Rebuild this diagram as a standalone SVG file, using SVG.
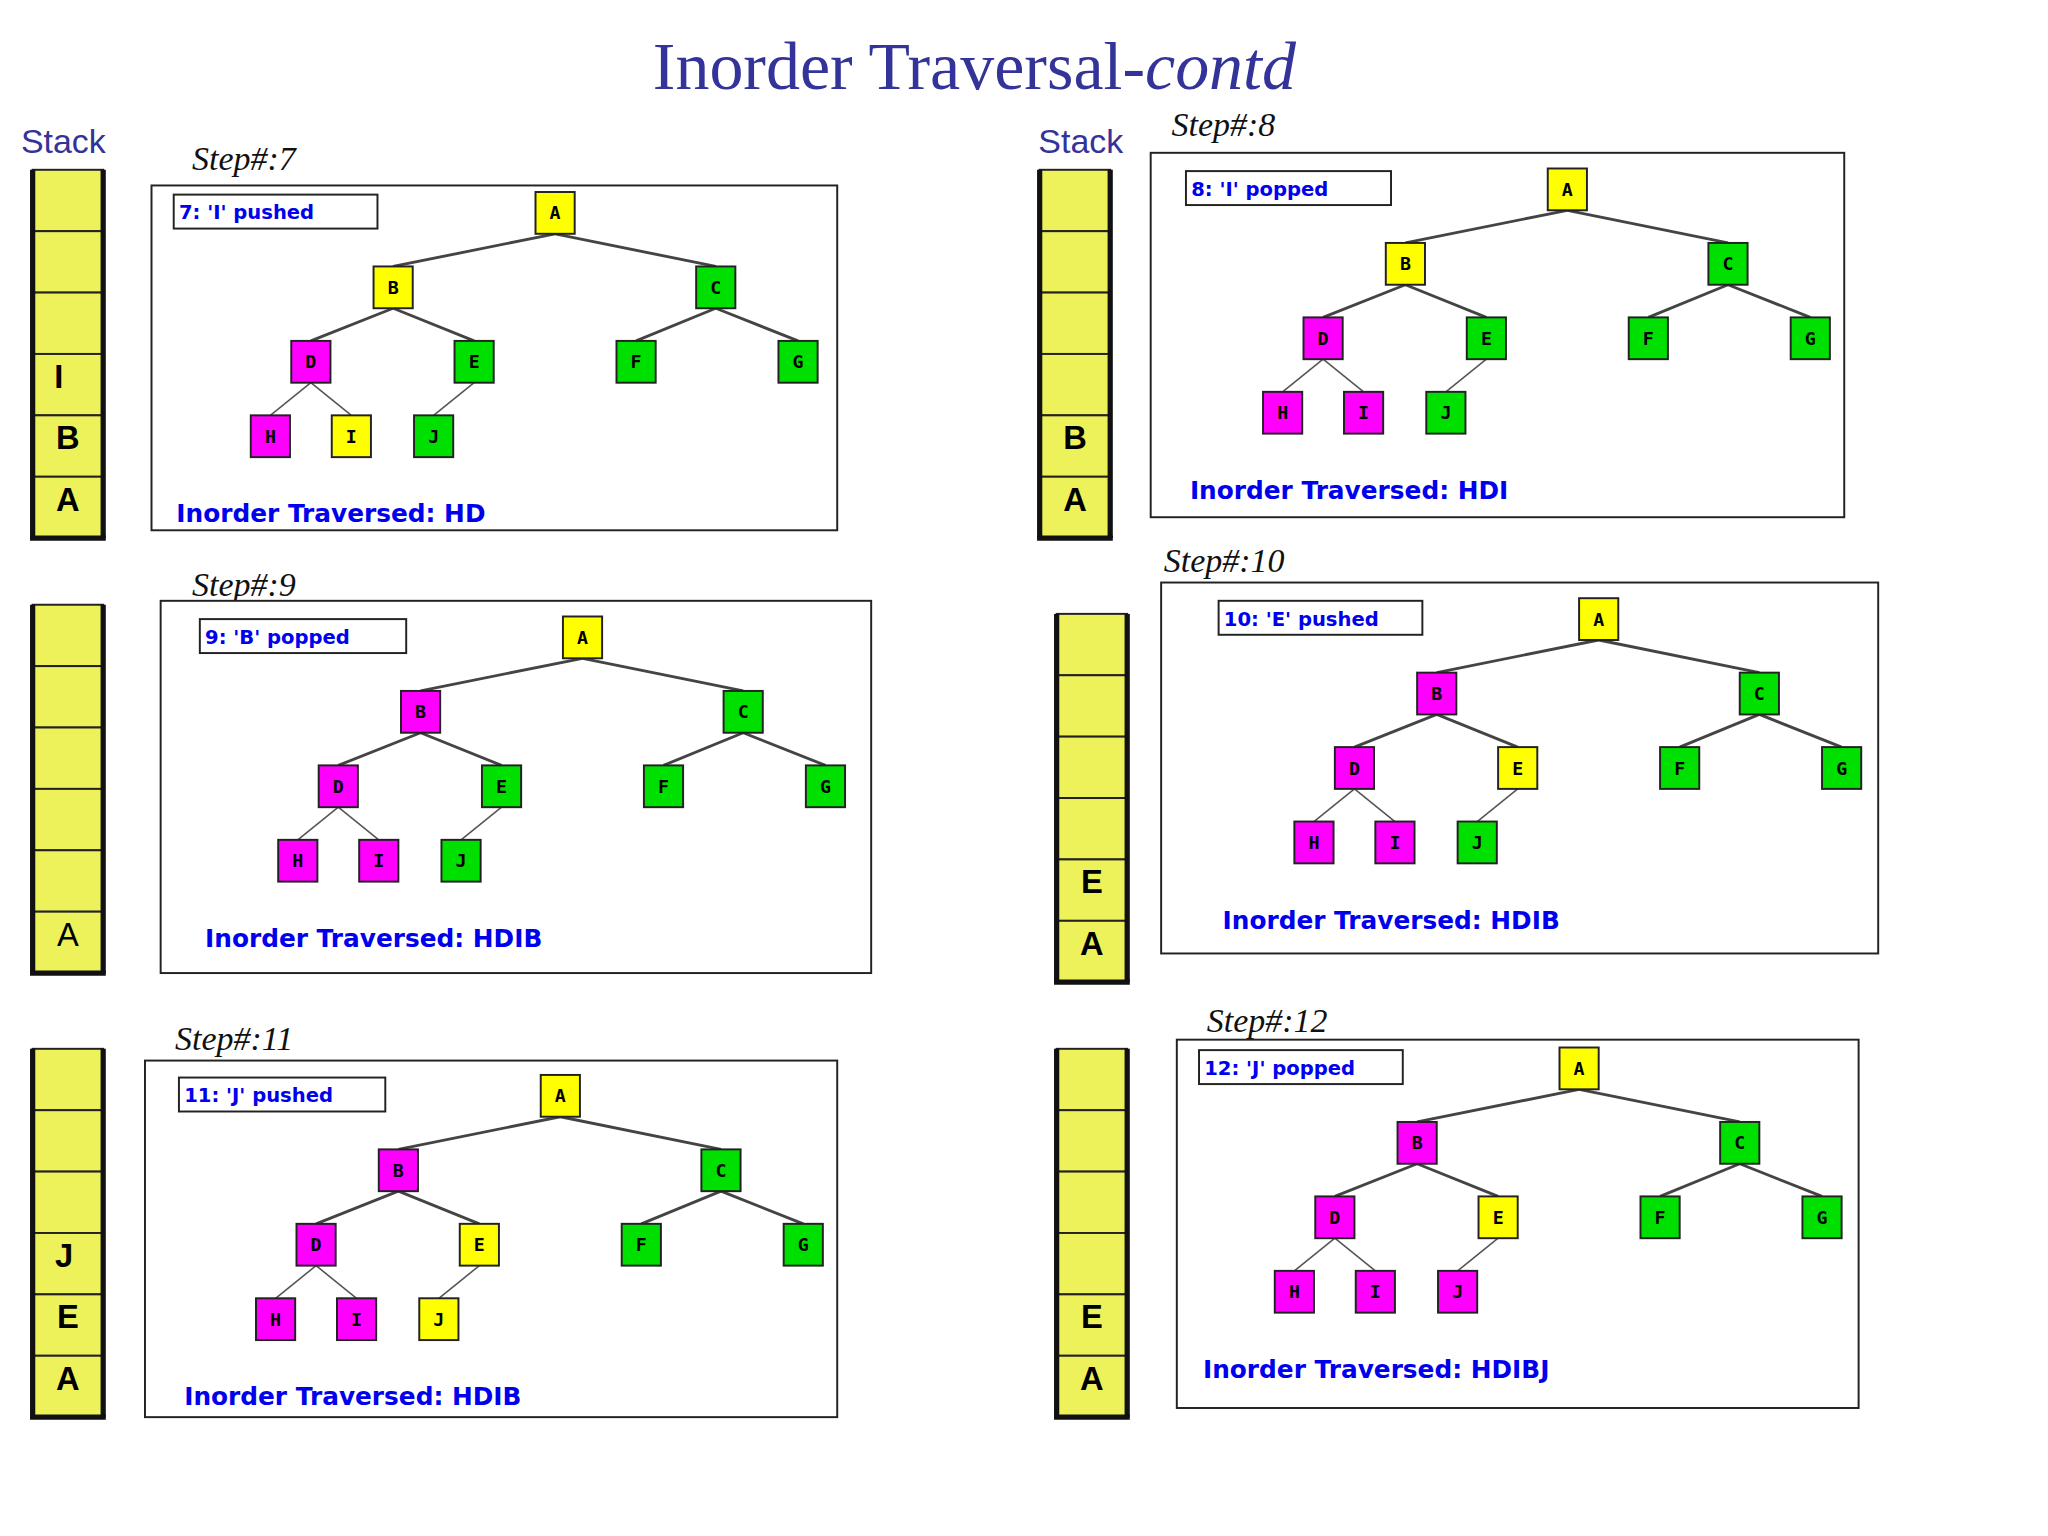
<svg xmlns="http://www.w3.org/2000/svg" width="2048" height="1536" viewBox="0 0 2048 1536">
<style>
.t{font-family:"Liberation Serif",serif;fill:#333399}
.st{font-family:"Liberation Sans",sans-serif;font-size:26px;fill:#333399}
.step{font-family:"Liberation Serif",serif;font-style:italic;font-size:26px;fill:#111}
.frame{fill:#fff;stroke:#222;stroke-width:1.5}
.lbl{fill:#fff;stroke:#222;stroke-width:1.5}
.lt{font-family:"DejaVu Sans",sans-serif;font-weight:bold;font-size:15px;fill:#0000ee}
.tr{font-family:"DejaVu Sans",sans-serif;font-weight:bold;font-size:19px;fill:#0000ee}
.y{fill:#ffff00;stroke:#222;stroke-width:1.5}
.g{fill:#00e000;stroke:#222;stroke-width:1.5}
.m{fill:#ff00ff;stroke:#222;stroke-width:1.5}
.nt{font-family:"DejaVu Sans Mono",monospace;font-weight:bold;font-size:14px;fill:#000;text-anchor:middle}
.e1{stroke:#444;stroke-width:2.2}
.e2{stroke:#555;stroke-width:1.2}
.cell{fill:#eef25a;stroke:#222;stroke-width:1.5}
.side{stroke:#111;stroke-width:4}
.sl{font-family:"Liberation Sans",sans-serif;font-weight:bold;font-size:25px;fill:#000;text-anchor:middle}
.sl.n{font-weight:normal}
</style>
<defs>
<g id="edges">
<line class="e1" x1="0" y1="16" x2="-124" y2="41"/><line class="e1" x1="0" y1="16" x2="123" y2="41"/>
<line class="e1" x1="-124" y1="73" x2="-187" y2="98"/><line class="e1" x1="-124" y1="73" x2="-62" y2="98"/>
<line class="e1" x1="123" y1="73" x2="62" y2="98"/><line class="e1" x1="123" y1="73" x2="186" y2="98"/>
<line class="e2" x1="-187" y1="130" x2="-218" y2="155"/><line class="e2" x1="-187" y1="130" x2="-156" y2="155"/>
<line class="e2" x1="-62" y1="130" x2="-93" y2="155"/>
</g>
<g id="stack">
<rect class="cell" x="0" y="0" width="54" height="47"/><rect class="cell" x="0" y="47" width="54" height="47"/>
<rect class="cell" x="0" y="94" width="54" height="47"/><rect class="cell" x="0" y="141" width="54" height="47"/>
<rect class="cell" x="0" y="188" width="54" height="47"/><rect class="cell" x="0" y="235" width="54" height="47"/>
<line class="side" x1="0" y1="0" x2="0" y2="282"/><line class="side" x1="54" y1="0" x2="54" y2="282"/>
<line class="side" x1="-2" y1="282" x2="56" y2="282"/>
</g>
</defs>
<rect width="2048" height="1536" fill="#fff"/>
<g transform="scale(1.30612)">
<text class="t" x="746" y="68" font-size="52" text-anchor="middle">Inorder Traversal-<tspan font-style="italic">contd</tspan></text>
<text class="st" x="16" y="117">Stack</text>
<text class="st" x="795" y="117">Stack</text>

<!-- Step 7 -->
<g id="stack7" transform="translate(25,130)"><use href="#stack"/>
<text class="sl" x="20" y="167">I</text><text class="sl" x="27" y="214">B</text><text class="sl" x="27" y="261">A</text></g>
<text class="step" x="147" y="130">Step#:7</text>
<rect class="frame" x="116" y="142" width="525" height="264"/>
<rect class="lbl" x="133" y="149" width="156" height="26"/>
<text class="lt" x="137" y="168">7: 'I' pushed</text>
<text class="tr" x="135" y="400">Inorder Traversed: HD</text>
<g transform="translate(425,163)">
<g class="connectors"><use href="#edges"/></g>
<g id="s7A"><rect class="y" x="-15" y="-16" width="30" height="32"/><text class="nt" x="0" y="5">A</text></g>
<g id="s7B"><rect class="y" x="-139" y="41" width="30" height="32"/><text class="nt" x="-124" y="62">B</text></g>
<g id="s7C"><rect class="g" x="108" y="41" width="30" height="32"/><text class="nt" x="123" y="62">C</text></g>
<g id="s7D"><rect class="m" x="-202" y="98" width="30" height="32"/><text class="nt" x="-187" y="119">D</text></g>
<g id="s7E"><rect class="g" x="-77" y="98" width="30" height="32"/><text class="nt" x="-62" y="119">E</text></g>
<g id="s7F"><rect class="g" x="47" y="98" width="30" height="32"/><text class="nt" x="62" y="119">F</text></g>
<g id="s7G"><rect class="g" x="171" y="98" width="30" height="32"/><text class="nt" x="186" y="119">G</text></g>
<g id="s7H"><rect class="m" x="-233" y="155" width="30" height="32"/><text class="nt" x="-218" y="176">H</text></g>
<g id="s7I"><rect class="y" x="-171" y="155" width="30" height="32"/><text class="nt" x="-156" y="176">I</text></g>
<g id="s7J"><rect class="g" x="-108" y="155" width="30" height="32"/><text class="nt" x="-93" y="176">J</text></g>
</g>

<!-- Step 8 -->
<g id="stack8" transform="translate(796,130)"><use href="#stack"/>
<text class="sl" x="27" y="214">B</text><text class="sl" x="27" y="261">A</text></g>
<text class="step" x="897" y="104">Step#:8</text>
<rect class="frame" x="881" y="117" width="531" height="279"/>
<rect class="lbl" x="908" y="131" width="157" height="26"/>
<text class="lt" x="912" y="150">8: 'I' popped</text>
<text class="tr" x="911" y="382">Inorder Traversed: HDI</text>
<g transform="translate(1200,145)">
<g class="connectors"><use href="#edges"/></g>
<g id="s8A"><rect class="y" x="-15" y="-16" width="30" height="32"/><text class="nt" x="0" y="5">A</text></g>
<g id="s8B"><rect class="y" x="-139" y="41" width="30" height="32"/><text class="nt" x="-124" y="62">B</text></g>
<g id="s8C"><rect class="g" x="108" y="41" width="30" height="32"/><text class="nt" x="123" y="62">C</text></g>
<g id="s8D"><rect class="m" x="-202" y="98" width="30" height="32"/><text class="nt" x="-187" y="119">D</text></g>
<g id="s8E"><rect class="g" x="-77" y="98" width="30" height="32"/><text class="nt" x="-62" y="119">E</text></g>
<g id="s8F"><rect class="g" x="47" y="98" width="30" height="32"/><text class="nt" x="62" y="119">F</text></g>
<g id="s8G"><rect class="g" x="171" y="98" width="30" height="32"/><text class="nt" x="186" y="119">G</text></g>
<g id="s8H"><rect class="m" x="-233" y="155" width="30" height="32"/><text class="nt" x="-218" y="176">H</text></g>
<g id="s8I"><rect class="m" x="-171" y="155" width="30" height="32"/><text class="nt" x="-156" y="176">I</text></g>
<g id="s8J"><rect class="g" x="-108" y="155" width="30" height="32"/><text class="nt" x="-93" y="176">J</text></g>
</g>

<!-- Step 9 -->
<g id="stack9" transform="translate(25,463)"><use href="#stack"/>
<text class="sl n" x="27" y="261">A</text></g>
<text class="step" x="147" y="456">Step#:9</text>
<rect class="frame" x="123" y="460" width="544" height="285"/>
<rect class="lbl" x="153" y="474" width="158" height="26"/>
<text class="lt" x="157" y="493">9: 'B' popped</text>
<text class="tr" x="157" y="725">Inorder Traversed: HDIB</text>
<g transform="translate(446,488)">
<g class="connectors"><use href="#edges"/></g>
<g id="s9A"><rect class="y" x="-15" y="-16" width="30" height="32"/><text class="nt" x="0" y="5">A</text></g>
<g id="s9B"><rect class="m" x="-139" y="41" width="30" height="32"/><text class="nt" x="-124" y="62">B</text></g>
<g id="s9C"><rect class="g" x="108" y="41" width="30" height="32"/><text class="nt" x="123" y="62">C</text></g>
<g id="s9D"><rect class="m" x="-202" y="98" width="30" height="32"/><text class="nt" x="-187" y="119">D</text></g>
<g id="s9E"><rect class="g" x="-77" y="98" width="30" height="32"/><text class="nt" x="-62" y="119">E</text></g>
<g id="s9F"><rect class="g" x="47" y="98" width="30" height="32"/><text class="nt" x="62" y="119">F</text></g>
<g id="s9G"><rect class="g" x="171" y="98" width="30" height="32"/><text class="nt" x="186" y="119">G</text></g>
<g id="s9H"><rect class="m" x="-233" y="155" width="30" height="32"/><text class="nt" x="-218" y="176">H</text></g>
<g id="s9I"><rect class="m" x="-171" y="155" width="30" height="32"/><text class="nt" x="-156" y="176">I</text></g>
<g id="s9J"><rect class="g" x="-108" y="155" width="30" height="32"/><text class="nt" x="-93" y="176">J</text></g>
</g>

<!-- Step 10 -->
<g id="stack10" transform="translate(809,470)"><use href="#stack"/>
<text class="sl" x="27" y="214">E</text><text class="sl" x="27" y="261">A</text></g>
<text class="step" x="891" y="438">Step#:10</text>
<rect class="frame" x="889" y="446" width="549" height="284"/>
<rect class="lbl" x="933" y="460" width="156" height="26"/>
<text class="lt" x="937" y="479">10: 'E' pushed</text>
<text class="tr" x="936" y="711">Inorder Traversed: HDIB</text>
<g transform="translate(1224,474)">
<g class="connectors"><use href="#edges"/></g>
<g id="s10A"><rect class="y" x="-15" y="-16" width="30" height="32"/><text class="nt" x="0" y="5">A</text></g>
<g id="s10B"><rect class="m" x="-139" y="41" width="30" height="32"/><text class="nt" x="-124" y="62">B</text></g>
<g id="s10C"><rect class="g" x="108" y="41" width="30" height="32"/><text class="nt" x="123" y="62">C</text></g>
<g id="s10D"><rect class="m" x="-202" y="98" width="30" height="32"/><text class="nt" x="-187" y="119">D</text></g>
<g id="s10E"><rect class="y" x="-77" y="98" width="30" height="32"/><text class="nt" x="-62" y="119">E</text></g>
<g id="s10F"><rect class="g" x="47" y="98" width="30" height="32"/><text class="nt" x="62" y="119">F</text></g>
<g id="s10G"><rect class="g" x="171" y="98" width="30" height="32"/><text class="nt" x="186" y="119">G</text></g>
<g id="s10H"><rect class="m" x="-233" y="155" width="30" height="32"/><text class="nt" x="-218" y="176">H</text></g>
<g id="s10I"><rect class="m" x="-171" y="155" width="30" height="32"/><text class="nt" x="-156" y="176">I</text></g>
<g id="s10J"><rect class="g" x="-108" y="155" width="30" height="32"/><text class="nt" x="-93" y="176">J</text></g>
</g>

<!-- Step 11 -->
<g id="stack11" transform="translate(25,803)"><use href="#stack"/>
<text class="sl" x="24" y="167">J</text><text class="sl" x="27" y="214">E</text><text class="sl" x="27" y="261">A</text></g>
<text class="step" x="134" y="804">Step#:11</text>
<rect class="frame" x="111" y="812" width="530" height="273"/>
<rect class="lbl" x="137" y="825" width="158" height="26"/>
<text class="lt" x="141" y="844">11: 'J' pushed</text>
<text class="tr" x="141" y="1076">Inorder Traversed: HDIB</text>
<g transform="translate(429,839)">
<g class="connectors"><use href="#edges"/></g>
<g id="s11A"><rect class="y" x="-15" y="-16" width="30" height="32"/><text class="nt" x="0" y="5">A</text></g>
<g id="s11B"><rect class="m" x="-139" y="41" width="30" height="32"/><text class="nt" x="-124" y="62">B</text></g>
<g id="s11C"><rect class="g" x="108" y="41" width="30" height="32"/><text class="nt" x="123" y="62">C</text></g>
<g id="s11D"><rect class="m" x="-202" y="98" width="30" height="32"/><text class="nt" x="-187" y="119">D</text></g>
<g id="s11E"><rect class="y" x="-77" y="98" width="30" height="32"/><text class="nt" x="-62" y="119">E</text></g>
<g id="s11F"><rect class="g" x="47" y="98" width="30" height="32"/><text class="nt" x="62" y="119">F</text></g>
<g id="s11G"><rect class="g" x="171" y="98" width="30" height="32"/><text class="nt" x="186" y="119">G</text></g>
<g id="s11H"><rect class="m" x="-233" y="155" width="30" height="32"/><text class="nt" x="-218" y="176">H</text></g>
<g id="s11I"><rect class="m" x="-171" y="155" width="30" height="32"/><text class="nt" x="-156" y="176">I</text></g>
<g id="s11J"><rect class="y" x="-108" y="155" width="30" height="32"/><text class="nt" x="-93" y="176">J</text></g>
</g>

<!-- Step 12 -->
<g id="stack12" transform="translate(809,803)"><use href="#stack"/>
<text class="sl" x="27" y="214">E</text><text class="sl" x="27" y="261">A</text></g>
<text class="step" x="924" y="790">Step#:12</text>
<rect class="frame" x="901" y="796" width="522" height="282"/>
<rect class="lbl" x="918" y="804" width="156" height="26"/>
<text class="lt" x="922" y="823">12: 'J' popped</text>
<text class="tr" x="921" y="1055">Inorder Traversed: HDIBJ</text>
<g transform="translate(1209,818)">
<g class="connectors"><use href="#edges"/></g>
<g id="s12A"><rect class="y" x="-15" y="-16" width="30" height="32"/><text class="nt" x="0" y="5">A</text></g>
<g id="s12B"><rect class="m" x="-139" y="41" width="30" height="32"/><text class="nt" x="-124" y="62">B</text></g>
<g id="s12C"><rect class="g" x="108" y="41" width="30" height="32"/><text class="nt" x="123" y="62">C</text></g>
<g id="s12D"><rect class="m" x="-202" y="98" width="30" height="32"/><text class="nt" x="-187" y="119">D</text></g>
<g id="s12E"><rect class="y" x="-77" y="98" width="30" height="32"/><text class="nt" x="-62" y="119">E</text></g>
<g id="s12F"><rect class="g" x="47" y="98" width="30" height="32"/><text class="nt" x="62" y="119">F</text></g>
<g id="s12G"><rect class="g" x="171" y="98" width="30" height="32"/><text class="nt" x="186" y="119">G</text></g>
<g id="s12H"><rect class="m" x="-233" y="155" width="30" height="32"/><text class="nt" x="-218" y="176">H</text></g>
<g id="s12I"><rect class="m" x="-171" y="155" width="30" height="32"/><text class="nt" x="-156" y="176">I</text></g>
<g id="s12J"><rect class="m" x="-108" y="155" width="30" height="32"/><text class="nt" x="-93" y="176">J</text></g>
</g>
</g>
</svg>
